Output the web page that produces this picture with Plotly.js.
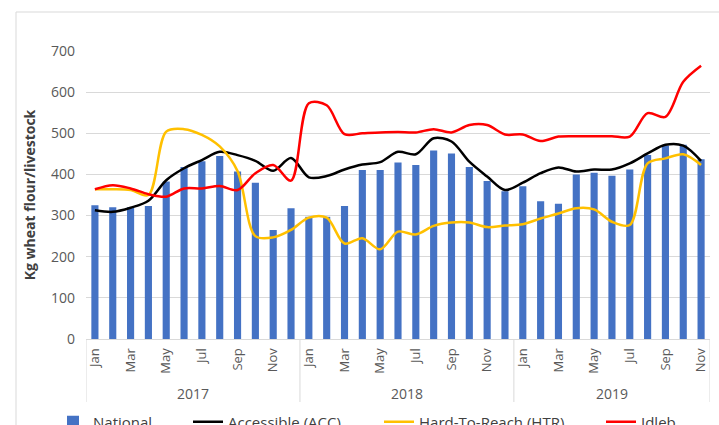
<!DOCTYPE html>
<html>
<head>
<meta charset="utf-8">
<script src="https://cdn.plot.ly/plotly-3.0.1.min.js"></script>
<style>html,body{margin:0;padding:0;background:#fff;}#chart{width:719px;height:425px;}</style>
</head>
<body>
<div id="chart"></div>
<script>
const months = ["Jan","Feb","Mar","Apr","May","Jun","Jul","Aug","Sep","Oct","Nov","Dec",
                "Jan","Feb","Mar","Apr","May","Jun","Jul","Aug","Sep","Oct","Nov","Dec",
                "Jan","Feb","Mar","Apr","May","Jun","Jul","Aug","Sep","Oct","Nov"];
const years = ["2017","2017","2017","2017","2017","2017","2017","2017","2017","2017","2017","2017",
               "2018","2018","2018","2018","2018","2018","2018","2018","2018","2018","2018","2018",
               "2019","2019","2019","2019","2019","2019","2019","2019","2019","2019","2019"];
const national = [325,320,320,323,383,418,432,445,407,380,265,318,
                  297,297,323,411,411,429,423,458,451,418,384,359,
                  371,335,329,400,404,397,412,447,470,472,437];
const accessible = [313,309,319,336,386,415,435,455,447,433,409,440,
                    393,396,412,424,430,455,449,488,480,431,395,362,
                    380,403,417,407,412,412,427,451,472,470,433];
const htr = [364,364,362,350,504,510,496,468,408,250,247,265,
             295,295,232,245,218,261,254,275,283,283,272,276,
             279,293,305,318,315,285,277,427,439,449,423];
const idleb = [364,374,366,352,346,366,366,372,362,403,423,385,
               573,568,498,500,502,503,502,510,502,520,520,497,
               497,481,492,493,493,493,492,549,540,625,664];
const yTicks = [0,100,200,300,400,500,600,700];

const cats = months.map((m, i) => m + " " + years[i]);
const oddIdx = cats.map((c, i) => i).filter(i => i % 2 === 0);
const tickVals = oddIdx.map(i => cats[i]);
const tickText = oddIdx.map(i => months[i]);

const uniqYears = [...new Set(years)];
const yearStart = uniqYears.map(y => years.indexOf(y));
const yearEnd = uniqYears.map(y => years.lastIndexOf(y));

const FAM = "Open Sans, Liberation Sans, sans-serif";
const tickFont = {family: FAM, size: 13, color: "#595959"};

const traces = [
  {type: "bar", x: cats, y: national, name: "National", marker: {color: "#4472C4"}, width: 0.4, legend: "legend"},
  {type: "scatter", mode: "lines", x: cats, y: accessible, name: "Accessible (ACC)",
   line: {color: "#000000", width: 2.5, shape: "spline", smoothing: 0.9}, legend: "legend2"},
  {type: "scatter", mode: "lines", x: cats, y: htr, name: "Hard-To-Reach (HTR)",
   line: {color: "#FFC000", width: 2.5, shape: "spline", smoothing: 0.9}, legend: "legend3"},
  {type: "scatter", mode: "lines", x: cats, y: idleb, name: "Idleb",
   line: {color: "#FF0000", width: 2.5, shape: "spline", smoothing: 0.9}, legend: "legend4"}
];

const plotL = 86, plotR = 710, plotT = 51, plotB = 339;
const pw = plotR - plotL, ph = plotB - plotT;
const px = v => (v - plotL) / pw;
const py = v => (plotB - v) / ph;

const legFont = {family: FAM, size: 15, color: "#404040"};
function leg(textStart) {
  return {orientation: "h", x: px(textStart - 42), xanchor: "left", y: py(422), yanchor: "middle",
          font: legFont, bgcolor: "rgba(0,0,0,0)", borderwidth: 0, itemwidth: 30};
}

const shapes = [];
shapes.push({type: "rect", xref: "paper", yref: "paper", x0: px(16), x1: px(740), y0: py(440), y1: py(12),
             line: {color: "#D9D9D9", width: 1}, fillcolor: "rgba(0,0,0,0)", layer: "below"});
const dividers = [-0.5].concat(yearEnd.map(e => e + 0.5));
dividers.forEach(d => {
  shapes.push({type: "line", xref: "x", yref: "paper", x0: d, x1: d, y0: 0, y1: py(402),
               line: {color: "#D9D9D9", width: 1}});
});

const annotations = uniqYears.map((y, k) => ({
  text: y, xref: "x", yref: "paper", x: (yearStart[k] + yearEnd[k]) / 2, y: py(393),
  showarrow: false, xanchor: "center", yanchor: "middle",
  font: {family: FAM, size: 14, color: "#595959"}
}));

const layout = {
  width: 719, height: 425,
  margin: {l: plotL, r: 719 - plotR, t: plotT, b: 425 - plotB, pad: 0, autoexpand: false},
  paper_bgcolor: "#ffffff", plot_bgcolor: "#ffffff",
  showlegend: true,
  legend: leg(95), legend2: leg(230), legend3: leg(421), legend4: leg(643),
  xaxis: {type: "category", range: [-0.5, cats.length - 0.5], tickmode: "array",
          tickvals: tickVals, ticktext: tickText, tickangle: -90, tickfont: tickFont,
          showgrid: false, showline: true, linecolor: "#D9D9D9", linewidth: 1,
          ticks: "", ticklabelstandoff: 3, zeroline: false, automargin: false, fixedrange: true},
  yaxis: {range: [0, 700], tickvals: yTicks, tickfont: {family: FAM, size: 14, color: "#595959"},
          showgrid: true, gridcolor: "#D9D9D9", gridwidth: 1, zeroline: false, showline: false,
          ticks: "", ticklabelstandoff: 10, automargin: false,
          title: {text: "Kg wheat flour/livestock", standoff: 12,
                  font: {family: FAM, size: 14, color: "#404040", weight: "bold"}}},
  bargap: 0.6,
  shapes: shapes,
  annotations: annotations
};

Plotly.newPlot("chart", traces, layout, {displayModeBar: false, staticPlot: true});
</script>
</body>
</html>
